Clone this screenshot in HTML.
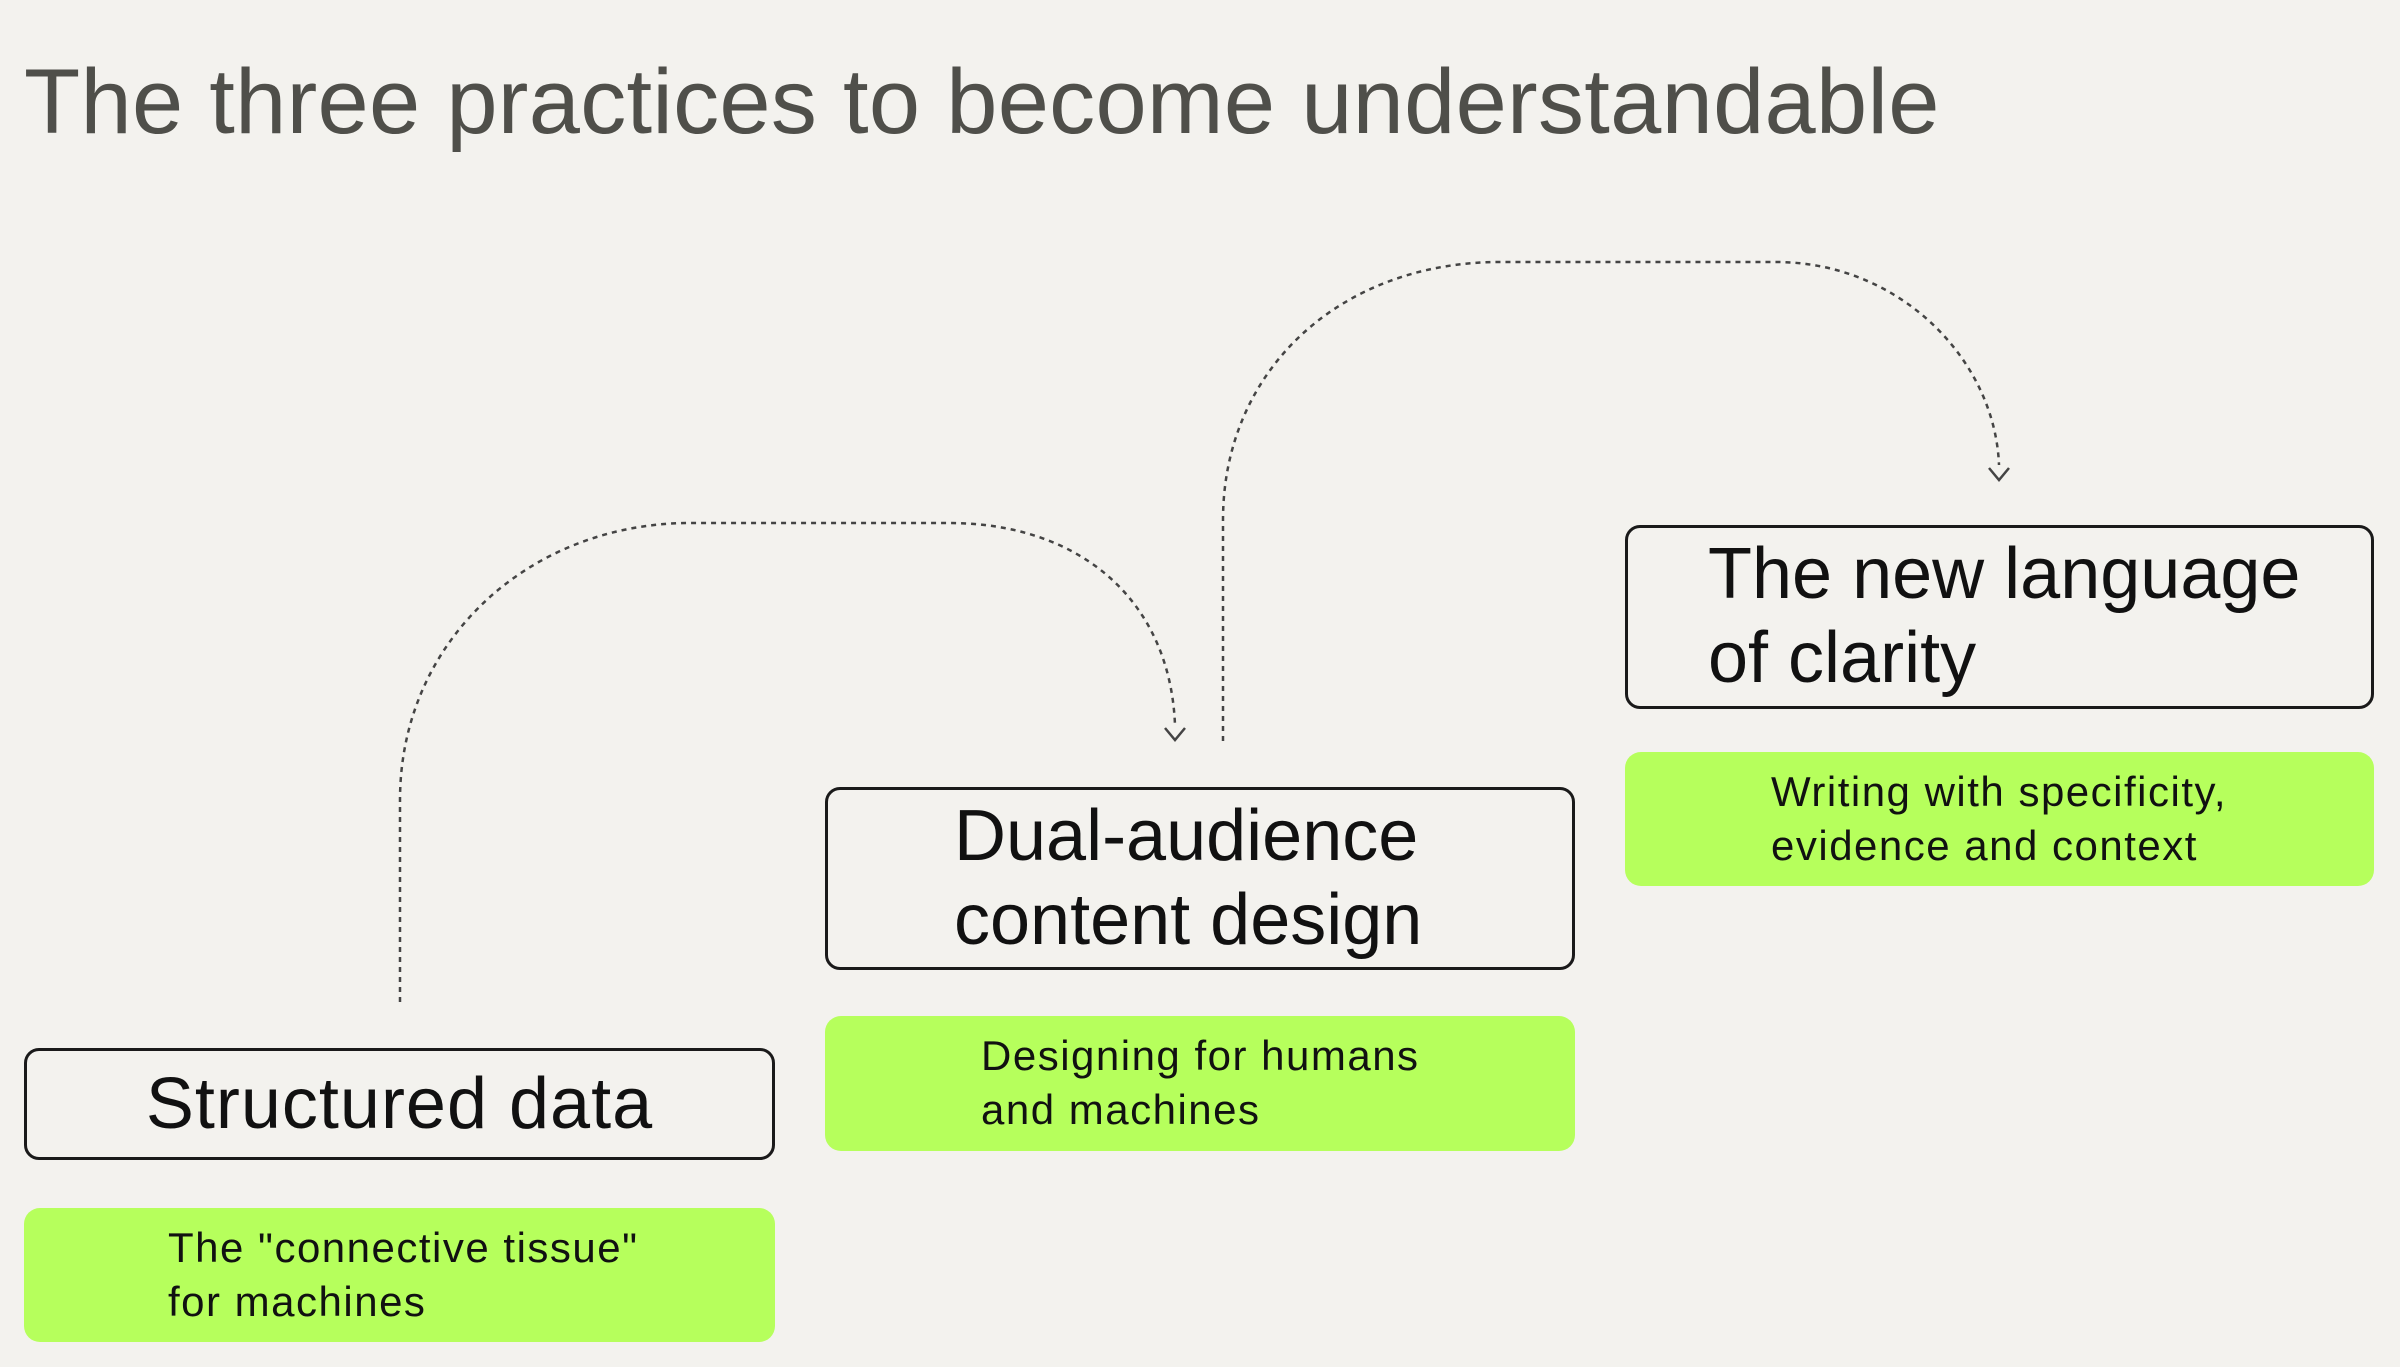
<!DOCTYPE html>
<html><head><meta charset="utf-8">
<style>
html,body{margin:0;padding:0;}
body{width:2400px;height:1367px;background:#f3f2ee;position:relative;overflow:hidden;font-family:"Liberation Sans",sans-serif;}
.t{position:absolute;left:24px;top:50px;font-size:92px;color:#4f4f4a;letter-spacing:0.3px;white-space:nowrap;}
.box{position:absolute;border:3px solid #1a1a1a;border-radius:15px;box-sizing:border-box;color:#111;font-size:72px;letter-spacing:0px;line-height:84px;white-space:nowrap;}
.g{position:absolute;background:#b6ff5c;border-radius:16px;font-size:42px;line-height:54px;color:#111;box-sizing:border-box;letter-spacing:1.5px;white-space:nowrap;}
</style></head><body>
<div class="t">The three practices to become understandable</div>
<svg width="2400" height="1367" style="position:absolute;left:0;top:0">
<g fill="none" stroke="#444" stroke-width="2.5" stroke-dasharray="5 5">
<path d="M400 1002 V800 C400 640 530 523 690 523 H949 C1080 523 1170 600 1175 725"/>
<path d="M1223 741 V520 C1223 370 1340 262 1500 262 H1776 C1900 262 1995 360 1999 465"/>
</g>
<g fill="none" stroke="#444" stroke-width="2.5">
<path d="M1165 728 L1175 740 L1185 728"/>
<path d="M1989 468 L1999 480 L2009 468"/>
</g>
</svg>
<div class="box" style="left:24px;top:1048px;width:751px;height:112px;text-align:center;line-height:106px;letter-spacing:1px;">Structured data</div>
<div class="g" style="left:24px;top:1208px;width:751px;height:134px;padding:13px 0 0 144px;">The "connective tissue"<br>for machines</div>
<div class="box" style="left:825px;top:787px;width:750px;height:183px;padding:4px 0 0 126px;">Dual-audience<br>content design</div>
<div class="g" style="left:825px;top:1016px;width:750px;height:135px;padding:13px 0 0 156px;">Designing for humans<br>and machines</div>
<div class="box" style="left:1625px;top:525px;width:749px;height:184px;padding:4px 0 0 80px;">The new language<br>of clarity</div>
<div class="g" style="left:1625px;top:752px;width:749px;height:134px;padding:13px 0 0 146px;">Writing with specificity,<br>evidence and context</div>
</body></html>
